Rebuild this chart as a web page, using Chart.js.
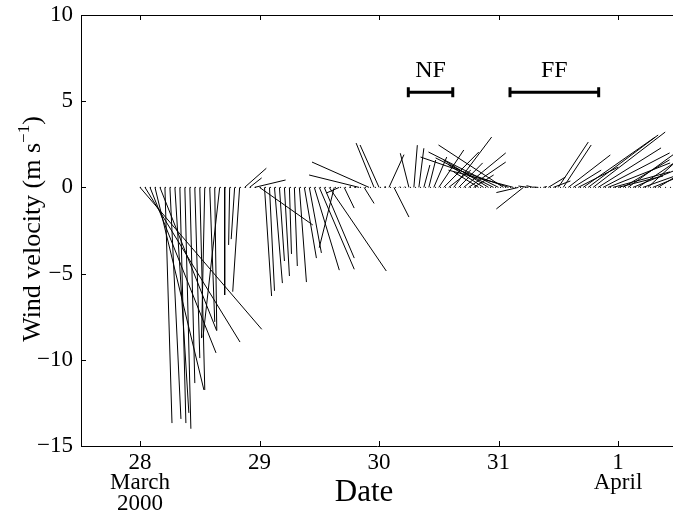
<!DOCTYPE html>
<html>
<head>
<meta charset="utf-8">
<script src="https://cdn.jsdelivr.net/npm/chart.js"></script>
<style>
  html, body { margin: 0; padding: 0; background: #fff; overflow: hidden; }
</style>
</head>
<body>
<canvas id="windChart" width="673" height="512"></canvas>
<script>
// hourly wind vectors, hours counted from 28 March 00:00
const hourIndex = [0,1,2,3,4,5,6,7,8,9,10,11,12,13,14,15,16,17,18,19,20,21,22,23,
  24,25,26,27,28,29,30,31,32,33,34,35,36,37,38,39,40,41,42,43,44,45,46,47,
  48,49,50,51,52,53,54,55,56,57,58,59,60,61,62,63,64,65,66,67,68,69,70,71,
  72,73,74,75,76,77,78,79,80,81,82,83,84,85,86,87,88,89,90,91,92,93,94,95,
  96,97,98,99,100,101,102,103,104];
// east component (m/s)
const windU = [7.06,5.51,3.83,2.84,3.29,0.41,0.64,0.81,0.35,0.35,0.29,0.29,0.29,-0.19,0.29,0.12,-0.97,0.00,-0.06,-0.20,-0.40,1.26,0.70,1.80,
  3.09,0.41,0.29,0.46,0.29,0.29,0.12,0.17,0.41,0.70,0.70,1.45,2.03,1.74,3.31,-0.87,-0.75,0.58,0.10,0.10,-2.90,0.58,-3.31,-1.04,
  -1.10,0.10,0.87,0.87,0.05,0.05,-0.50,0.20,0.29,0.35,0.40,0.75,1.45,2.03,1.28,2.20,1.39,2.44,2.15,1.16,-1.45,-2.03,-2.61,-3.36,
  -4.06,-3.77,-5.10,-3.77,-1.28,-1.57,-0.58,-0.40,-0.30,0.20,0.99,0.99,1.74,1.62,2.44,1.62,2.32,4.18,4.06,4.18,3.65,3.86,3.60,3.30,
  2.61,2.70,2.90,3.20,2.80,3.10,2.60,2.20,2.50];
// north component (m/s)
const windV = [-8.23,-8.97,-9.60,-11.75,-8.31,-13.67,-13.43,-13.08,-13.67,-14.00,-11.35,-9.90,-11.75,-8.74,-7.80,-8.30,-8.70,-6.24,-3.34,-3.00,-6.05,1.11,0.55,0.43,
  -2.18,-6.30,-6.00,-5.55,-4.27,-5.14,-3.86,-4.56,-5.49,-4.10,-3.80,-4.80,-4.75,-4.10,-4.85,-3.50,-0.33,-1.20,0.05,0.05,0.72,-0.93,1.47,2.57,
  2.46,0.05,1.90,-1.72,0.05,0.05,1.98,2.45,2.27,1.30,1.59,1.76,2.17,2.05,1.00,2.92,1.42,2.00,1.47,0.72,0.90,1.30,1.59,1.71,
  2.05,2.46,1.76,1.00,-0.30,-1.25,0.08,0.10,0.02,0.05,0.60,0.37,2.63,2.46,1.88,1.00,1.18,2.92,3.04,3.21,2.29,2.00,1.42,0.90,
  0.66,1.60,2.10,1.30,1.90,1.10,2.40,0.90,1.50];

const xTicks = [28, 29, 30, 31, 32];
const xTickLabels = [['28', 'March', '2000'], ['29'], ['30'], ['31'], ['1', 'April']];
const yTicks = [10, 5, 0, -5, -10, -15];

const periodNames = ['NF', 'FF'];
const periodStart = [30.245, 31.096];
const periodEnd = [30.617, 31.838];
const periodLevel = 5.52;
const periodLabelLevel = 6.75;

const X_MIN = 27.506, X_MAX = 32.46, Y_MIN = -15, Y_MAX = 10;
const SERIF = '"Liberation Serif", "Times New Roman", serif';

// days of x per m/s so that sticks keep true direction on screen
const K = (431 / (Y_MAX - Y_MIN)) / 119.5;

const stickData = [];
hourIndex.forEach((h, i) => {
  const t = 28 + h / 24;
  stickData.push({ x: t, y: 0 });
  stickData.push({ x: t + windU[i] * K, y: windV[i] });
  stickData.push({ x: t, y: null });
});

const datasets = [
  {
    data: [{ x: 28.0, y: 0 }, { x: X_MAX, y: 0 }],
    borderColor: '#000', borderWidth: 1, borderDash: [1, 4], pointRadius: 0
  },
  {
    data: stickData,
    borderColor: '#000', borderWidth: 1, pointRadius: 0, spanGaps: false
  }
];
periodNames.forEach((n, i) => {
  datasets.push({
    data: [{ x: periodStart[i], y: periodLevel }, { x: periodEnd[i], y: periodLevel }],
    borderColor: '#000', borderWidth: 3,
    pointStyle: 'line', pointRotation: 90, pointRadius: 5, pointBorderWidth: 3,
    pointBorderColor: '#000', pointBackgroundColor: '#000'
  });
});

const framePlugin = {
  id: 'frame',
  afterDraw(chart) {
    const { ctx, chartArea: a, scales: { x, y } } = chart;
    ctx.save();
    ctx.strokeStyle = '#000';
    ctx.lineWidth = 1;
    ctx.beginPath();
    ctx.moveTo(a.left, a.top + 0.5);
    ctx.lineTo(a.right, a.top + 0.5);
    xTicks.forEach(v => {
      const px = Math.round(x.getPixelForValue(v)) + 0.5;
      ctx.moveTo(px, a.bottom); ctx.lineTo(px, a.bottom - 5);
      ctx.moveTo(px, a.top); ctx.lineTo(px, a.top + 5);
    });
    yTicks.forEach(v => {
      const py = Math.round(y.getPixelForValue(v)) + 0.5;
      ctx.moveTo(a.left, py); ctx.lineTo(a.left + 5, py);
    });
    ctx.stroke();

    ctx.fillStyle = '#000';
    ctx.font = '24px ' + SERIF;
    ctx.textAlign = 'center';
    ctx.textBaseline = 'middle';
    periodNames.forEach((n, i) => {
      ctx.fillText(n, x.getPixelForValue((periodStart[i] + periodEnd[i]) / 2), y.getPixelForValue(periodLabelLevel));
    });

    // x title
    ctx.font = '31px ' + SERIF;
    ctx.fillText('Date', 364, 493);

    // y title with superscript
    ctx.translate(40, 229);
    ctx.rotate(-Math.PI / 2);
    ctx.textAlign = 'left';
    ctx.textBaseline = 'alphabetic';
    const f1 = '26px ' + SERIF, f2 = '17px ' + SERIF;
    const p1 = 'Wind velocity (m s', p2 = '\u22121', p3 = ')';
    ctx.font = f1; const w1 = ctx.measureText(p1).width, w3 = ctx.measureText(p3).width;
    ctx.font = f2; const w2 = ctx.measureText(p2).width;
    let sx = -(w1 + w2 + w3) / 2;
    ctx.font = f1; ctx.fillText(p1, sx, 0);
    ctx.font = f2; ctx.fillText(p2, sx + w1, -11);
    ctx.font = f1; ctx.fillText(p3, sx + w1 + w2, 0);
    ctx.restore();
  }
};

new Chart(document.getElementById('windChart'), {
  type: 'line',
  data: { datasets },
  options: {
    responsive: false,
    animation: false,
    devicePixelRatio: 1,
    layout: { autoPadding: false, padding: { top: 15, left: 0, right: 0, bottom: 0 } },
    plugins: { legend: { display: false }, tooltip: { enabled: false } },
    elements: { line: { tension: 0 } },
    scales: {
      x: {
        type: 'linear', min: X_MIN, max: X_MAX,
        afterBuildTicks: s => { s.ticks = xTicks.map(v => ({ value: v })); },
        afterFit: s => { s.height = 66; s.paddingLeft = 0; s.paddingRight = 0; },
        grid: { display: false, drawTicks: false },
        border: { display: true, color: '#000', width: 1 },
        ticks: {
          autoSkip: false, maxRotation: 0, padding: 7, color: '#000',
          font: { family: SERIF, size: 23, lineHeight: 0.88 },
          callback: v => xTickLabels[xTicks.indexOf(v)] || ''
        }
      },
      y: {
        type: 'linear', min: Y_MIN, max: Y_MAX,
        afterBuildTicks: s => { s.ticks = yTicks.map(v => ({ value: v })); },
        afterFit: s => { s.width = 81; s.paddingTop = 0; s.paddingBottom = 0; },
        grid: { display: false, drawTicks: false },
        border: { display: true, color: '#000', width: 1 },
        ticks: {
          padding: 8, color: '#000',
          font: { family: SERIF, size: 23 },
          callback: v => (v < 0 ? '\u2212' + Math.abs(v) : String(v))
        }
      }
    }
  },
  plugins: [framePlugin]
});
</script>
</body>
</html>
